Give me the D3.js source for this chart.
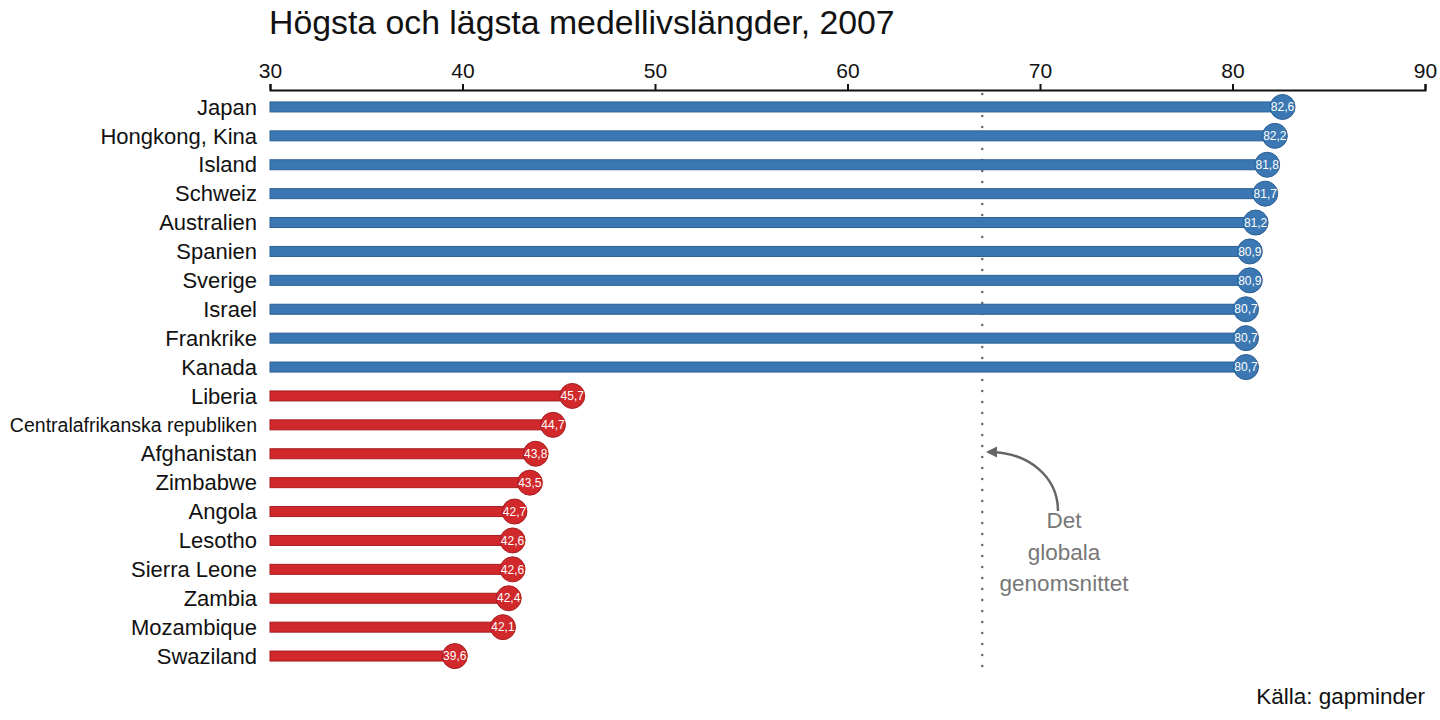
<!DOCTYPE html>
<html>
<head>
<meta charset="utf-8">
<script src="https://cdn.jsdelivr.net/npm/d3@7"></script>
<style>
  body { margin: 0; background: #fff; }
  svg { font-family: "Liberation Sans", Arial, Helvetica, sans-serif; }
</style>
</head>
<body>
<svg id="chart" width="1440" height="720"></svg>
<script>
const countries = ['Japan', 'Hongkong, Kina', 'Island', 'Schweiz', 'Australien', 'Spanien', 'Sverige', 'Israel', 'Frankrike', 'Kanada',
    'Liberia', 'Centralafrikanska republiken', 'Afghanistan', 'Zimbabwe', 'Angola', 'Lesotho', 'Sierra Leone', 'Zambia', 'Mozambique', 'Swaziland']
const lifeExp = [82.6, 82.2, 81.8, 81.7, 81.2, 80.9, 80.9, 80.7, 80.7, 80.7,
    45.7, 44.7, 43.8, 43.5, 42.7, 42.6, 42.6, 42.4, 42.1, 39.6]
const group = ['high', 'high', 'high', 'high', 'high', 'high', 'high', 'high', 'high', 'high',
    'low', 'low', 'low', 'low', 'low', 'low', 'low', 'low', 'low', 'low']
const xTicks = [30, 40, 50, 60, 70, 80, 90]
const globalAvg = 67.0

const data = countries.map((c, i) => ({ country: c, value: lifeExp[i], group: group[i] }))

const svg = d3.select('#chart')

const x = d3.scaleLinear().domain([30, 90]).range([270, 1425])
const y = d3.scaleBand().domain(countries).range([92.5, 670.5]).padding(0)
const yc = d => y(d) + y.bandwidth() / 2

const fill = { high: '#3b78b3', low: '#d0282b' }
const edge = { high: '#2c5f93', low: '#a81c1f' }

// title
svg.append('text')
    .attr('x', 269)
    .attr('y', 34)
    .style('font-size', '33.8px')
    .style('fill', '#111')
    .text('Högsta och lägsta medellivslängder, 2007')

// axis on top
const axis = svg.append('g')
    .attr('transform', 'translate(0,90)')
    .call(d3.axisTop(x).tickValues(xTicks).tickSize(6).tickSizeOuter(6).tickPadding(6))
axis.selectAll('text').style('font-size', '21px').style('fill', '#111').style('font-family', '"Liberation Sans", Arial, sans-serif')
axis.selectAll('path, line').attr('stroke', '#111').attr('stroke-width', 2)

// global average line
svg.append('line')
    .attr('x1', x(globalAvg)).attr('x2', x(globalAvg))
    .attr('y1', 94).attr('y2', 672)
    .attr('stroke', '#666')
    .attr('stroke-width', 2.5)
    .attr('stroke-linecap', 'round')
    .attr('stroke-dasharray', '0,11')

// country labels
svg.append('g')
    .selectAll('text')
    .data(data)
    .enter().append('text')
    .attr('x', 257)
    .attr('y', d => yc(d.country))
    .attr('dy', '0.35em')
    .attr('text-anchor', 'end')
    .style('font-size', d => d.country.length > 20 ? '19.5px' : '22px')
    .style('fill', '#111')
    .text(d => d.country)

// bars
svg.append('g')
    .selectAll('rect')
    .data(data)
    .enter().append('rect')
    .attr('x', x(30))
    .attr('y', d => yc(d.country) - 5)
    .attr('width', d => x(d.value) - x(30))
    .attr('height', 10)
    .attr('fill', d => fill[d.group])
    .attr('stroke', d => edge[d.group])
    .attr('stroke-width', 1)

// end dots
svg.append('g')
    .selectAll('circle')
    .data(data)
    .enter().append('circle')
    .attr('cx', d => x(d.value))
    .attr('cy', d => yc(d.country))
    .attr('r', 12.5)
    .attr('fill', d => fill[d.group])
    .attr('stroke', d => edge[d.group])
    .attr('stroke-width', 1)

svg.append('g')
    .selectAll('text')
    .data(data)
    .enter().append('text')
    .attr('x', d => x(d.value))
    .attr('y', d => yc(d.country))
    .attr('dy', '0.35em')
    .attr('text-anchor', 'middle')
    .style('font-size', '12px')
    .style('fill', '#fff')
    .text(d => d.value.toFixed(1).replace('.', ','))

// annotation arrow
svg.append('defs').append('marker')
    .attr('id', 'arrow')
    .attr('viewBox', '0 0 10 10')
    .attr('refX', 8).attr('refY', 5)
    .attr('markerWidth', 4.5).attr('markerHeight', 4.5)
    .attr('orient', 'auto')
    .append('path')
    .attr('d', 'M0,0 L10,5 L0,10 Z')
    .attr('fill', '#666')

const ax = x(globalAvg)
svg.append('path')
    .attr('d', `M1058,511 C1058,478 1030,452 ${ax + 6},452`)
    .attr('fill', 'none')
    .attr('stroke', '#666')
    .attr('stroke-width', 2.5)
    .attr('marker-end', 'url(#arrow)')

const note = svg.append('text')
    .attr('text-anchor', 'middle')
    .style('font-size', '22.5px')
    .style('fill', '#777')
;['Det', 'globala', 'genomsnittet'].forEach((t, i) => {
    note.append('tspan').attr('x', 1064).attr('y', 528 + i * 31.5).text(t)
})

// source
svg.append('text')
    .attr('x', 1425)
    .attr('y', 704)
    .attr('text-anchor', 'end')
    .style('font-size', '22.5px')
    .style('fill', '#111')
    .text('Källa: gapminder')
</script>
</body>
</html>
